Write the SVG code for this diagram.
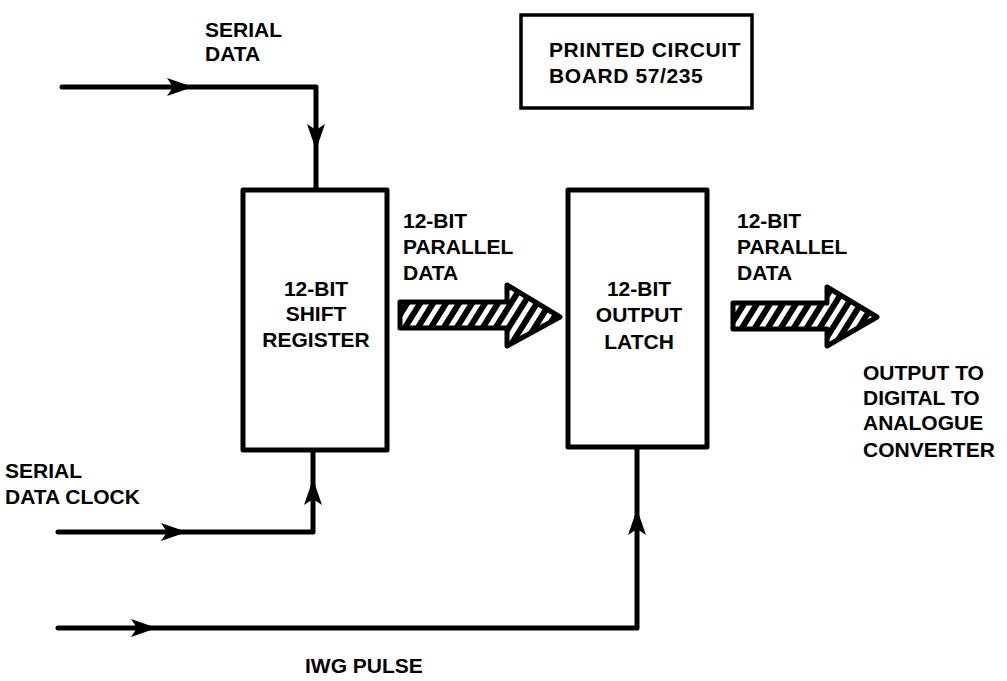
<svg xmlns="http://www.w3.org/2000/svg" width="1007" height="681" viewBox="0 0 1007 681">
<style>
text{font-family:"Liberation Sans",Arial,sans-serif;font-weight:bold;font-size:21px;fill:#000}
.c{text-anchor:middle}
.box{fill:#fff;stroke:#000;stroke-width:5;stroke-linejoin:round}
.pcb{fill:#fff;stroke:#000;stroke-width:3.5}
.wire{fill:none;stroke:#000;stroke-width:5;stroke-linejoin:round;stroke-linecap:round}
.ah{fill:#000}
.bus{fill:url(#hatch);stroke:#000;stroke-width:5;stroke-linejoin:round}
</style>
<defs>
<pattern id="hatch" width="11" height="11" patternUnits="userSpaceOnUse" patternTransform="rotate(32)">
<rect width="11" height="11" fill="#000"/>
<rect x="3" width="5" height="11" fill="#fff"/>
</pattern>
<path id="ah" class="ah" d="M0,0 L-26,-9 L-20,0 L-26,9 Z"/>
</defs>
<rect width="1007" height="681" fill="#fff"/>

<g id="connectors">
<path class="wire" d="M62,87 H316 V190"/>
<use href="#ah" transform="translate(193,87)"/>
<use href="#ah" transform="translate(316,150) rotate(90)"/>
<path class="wire" d="M58,532 H313 V450"/>
<use href="#ah" transform="translate(187,532)"/>
<use href="#ah" transform="translate(313,479) rotate(-90)"/>
<path class="wire" d="M58,628 H637 V447"/>
<use href="#ah" transform="translate(157,628)"/>
<use href="#ah" transform="translate(637,509) rotate(-90)"/>
<polygon class="bus" points="400,302 507,302 507,285 560,317 507,346 507,328 400,328"/>
<polygon class="bus" points="733,303 827,303 827,287 877,317 827,346 827,329 733,329"/>
</g>

<g id="pcb">
<rect class="pcb" x="521" y="15" width="231" height="93"/>
<text x="549" y="57" letter-spacing="0.6">PRINTED CIRCUIT</text>
<text x="549" y="83" letter-spacing="0.6">BOARD 57/235</text>
</g>

<g id="shift-register">
<rect class="box" x="243" y="190" width="144" height="260"/>
<text class="c" x="316" y="296">12-BIT</text>
<text class="c" x="316" y="321">SHIFT</text>
<text class="c" x="316" y="347">REGISTER</text>
</g>

<g id="output-latch">
<rect class="box" x="568" y="190" width="139" height="257"/>
<text class="c" x="639" y="296">12-BIT</text>
<text class="c" x="639" y="322">OUTPUT</text>
<text class="c" x="639" y="349">LATCH</text>
</g>

<g id="labels">
<text x="205" y="37">SERIAL</text>
<text x="205" y="61">DATA</text>
<text x="403" y="228">12-BIT</text>
<text x="403" y="254">PARALLEL</text>
<text x="403" y="280">DATA</text>
<text x="737" y="228">12-BIT</text>
<text x="737" y="254">PARALLEL</text>
<text x="737" y="280">DATA</text>
<text x="863" y="380">OUTPUT TO</text>
<text x="863" y="405">DIGITAL TO</text>
<text x="863" y="430">ANALOGUE</text>
<text x="863" y="457">CONVERTER</text>
<text x="5" y="478">SERIAL</text>
<text x="5" y="504">DATA CLOCK</text>
<text x="305" y="673">IWG PULSE</text>
</g>
</svg>
